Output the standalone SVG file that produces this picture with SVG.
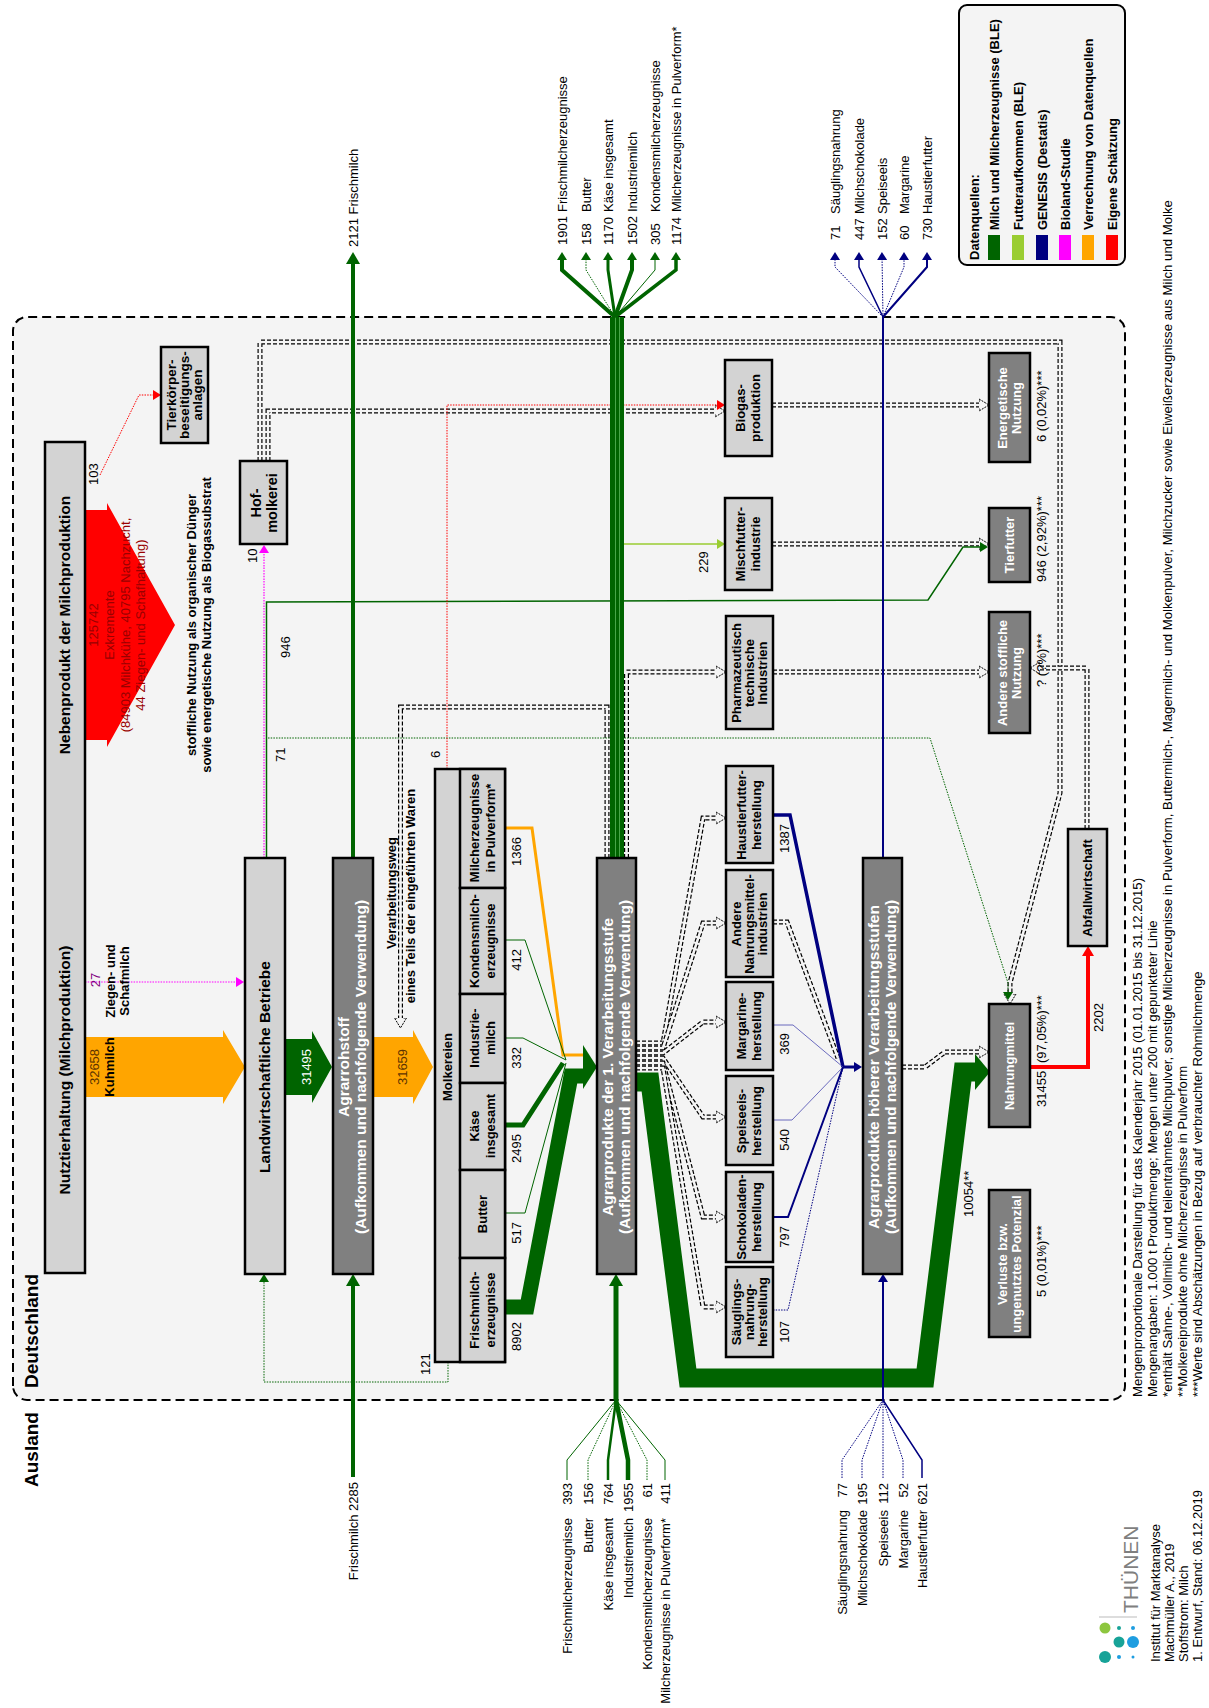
<svg xmlns="http://www.w3.org/2000/svg" width="1209" height="1708" viewBox="0 0 1209 1708">
<style>
text{font-family:"Liberation Sans",Arial,Helvetica,sans-serif;font-size:13px;fill:#000}
.b{font-weight:bold}
.m{text-anchor:middle}
.e{text-anchor:end}
.big{font-size:15.5px;font-weight:bold}
.w{fill:#fff}
.b1{fill:#d3d3d3;stroke:#000;stroke-width:2.5}
.b2{fill:#808080;stroke:#000;stroke-width:2.5}
.dd1{fill:none;stroke:#000;stroke-width:5;stroke-dasharray:4 2}
.dd2{fill:none;stroke:#f4f4f4;stroke-width:2.6;marker-end:url(#ha)}
.dd3{fill:none;stroke:#f4f4f4;stroke-width:2.6}
.g{fill:none;stroke:#006400}
.nv{fill:none;stroke:#000080}
.dt{stroke-dasharray:1.5 1.2}
.leg{font-size:13px;font-weight:bold}
.fn{font-size:13.2px}
.rt{fill:#990000;font-size:13px}
.ot{fill:#5c3300}
</style>
<defs>
<marker id="mG" viewBox="0 0 8 10" refX="4" refY="5" markerWidth="8" markerHeight="10" markerUnits="userSpaceOnUse" orient="auto"><path d="M0,0L8,5L0,10z" fill="#006400"/></marker>
<marker id="mGb" viewBox="0 0 12 14" refX="5" refY="7" markerWidth="12" markerHeight="14" markerUnits="userSpaceOnUse" orient="auto"><path d="M0,0L12,7L0,14z" fill="#006400"/></marker>
<marker id="mN" viewBox="0 0 8 10" refX="4" refY="5" markerWidth="8" markerHeight="10" markerUnits="userSpaceOnUse" orient="auto"><path d="M0,0L8,5L0,10z" fill="#000080"/></marker>
<marker id="mM" viewBox="0 0 8 10" refX="4" refY="5" markerWidth="8" markerHeight="10" markerUnits="userSpaceOnUse" orient="auto"><path d="M0,0L8,5L0,10z" fill="#ff00ff"/></marker>
<marker id="mR" viewBox="0 0 8 10" refX="4" refY="5" markerWidth="8" markerHeight="10" markerUnits="userSpaceOnUse" orient="auto"><path d="M0,0L8,5L0,10z" fill="#ff0000"/></marker>
<marker id="mRb" viewBox="0 0 10 12" refX="4" refY="6" markerWidth="10" markerHeight="12" markerUnits="userSpaceOnUse" orient="auto"><path d="M0,0L10,6L0,12z" fill="#ff0000"/></marker>
<marker id="mL" viewBox="0 0 8 10" refX="4" refY="5" markerWidth="8" markerHeight="10" markerUnits="userSpaceOnUse" orient="auto"><path d="M0,0L8,5L0,10z" fill="#9acd32"/></marker>
<marker id="ha" viewBox="0 -7 11 14" refX="0" refY="0" markerWidth="11" markerHeight="14" markerUnits="userSpaceOnUse" orient="auto"><path d="M0,-3L0,-6L10,0L0,6L0,3" fill="#f4f4f4" stroke="#000" stroke-width="1" stroke-dasharray="2 1"/></marker>
<path id="pA" d="M1247,268L1297,268L1297,715"/>
<path id="pB" d="M1247,260L1366,260L1366,1060L915,1060L725,1010L714,1010"/>
<path id="pC" d="M1303,772L1303,979"/>
<path id="pD" d="M1164,772L1164,979"/>
<path id="pE" d="M1036,773L1036,979"/>
<path id="pF" d="M850,626.5L1036,626.5L1036,716"/>
<path id="pG" d="M850,607L1001,607L1001,400.5L690,400.5"/>
<path id="pH" d="M879,1087L1040,1087L1040,1040"/>
<path id="pI1" d="M665,636L665,663L890,703L890,716"/>
<path id="pI2" d="M660,636L660,663L785,703L785,716"/>
<path id="pI3" d="M655,636L655,663L686,703L686,716"/>
<path id="pI4" d="M650,636L650,663L591,703L591,716"/>
<path id="pI5" d="M645,636L645,663L491,703L491,716"/>
<path id="pI6" d="M640,636L640,663L401,703L401,716"/>
<path id="pJ" d="M786,773L786,787L650,838"/>
<path id="pK" d="M641,902L641,925L656,945L656,979"/>
</defs>
<rect width="1209" height="1708" fill="#fff"/>
<g transform="translate(0,1708) rotate(-90)">
<g id="region">
<rect x="308" y="13" width="1083" height="1112" rx="14" fill="#f4f4f4" stroke="#000" stroke-width="2" stroke-dasharray="9 5"/>
<text x="221" y="38" class="b" style="font-size:19px">Ausland</text>
<text x="320" y="38" class="b" style="font-size:19px">Deutschland</text>
</g>
<g id="connectors">
<polygon points="968,85 968,107 961,107 1083,175 1205,107 1198,107 1198,85" fill="#ff0000"/>
<text x="1083" y="98" class="m rt">125742</text>
<text x="1083" y="114" class="m rt">Exkremente</text>
<text x="1083" y="130" class="m rt">(84903 Milchkühe, 40795 Nachzucht,</text>
<text x="1083" y="145" class="m rt">44 Ziegen- und Schafhaltung)</text>
<text x="1083" y="196" class="m b">stoffliche Nutzung als organischer Dünger</text>
<text x="1083" y="211" class="m b">sowie energetische Nutzung als Biogassubstrat</text>
<polygon points="611,85 671,85 671,223 678,223 641,245 604,223 611,223" fill="#ffa500"/>
<text x="641" y="99" class="m ot">32658</text>
<text x="641" y="114" class="m b">Kuhmilch</text>
<polygon points="613,285 669,285 669,312 677,312 641,332 605,312 613,312" fill="#006400"/>
<text x="641" y="311" class="m w">31495</text>
<polygon points="611,373 671,373 671,413 678,413 641,433 604,413 611,413" fill="#ffa500"/>
<text x="641" y="407" class="m ot">31659</text>
<text x="815" y="396" class="m b">Verarbeitungsweg</text>
<text x="812" y="415" class="m b">eines Teils der eingeführten Waren</text>
<g id="doubledashed">
<use href="#pA" class="dd1"/><use href="#pA" class="dd2"/>
<use href="#pB" class="dd1"/><use href="#pB" class="dd2"/>
<use href="#pC" class="dd1"/><use href="#pC" class="dd2"/>
<use href="#pD" class="dd1"/><use href="#pD" class="dd2"/>
<use href="#pE" class="dd1"/><use href="#pE" class="dd2"/>
<use href="#pF" class="dd1"/><use href="#pF" class="dd2"/>
<use href="#pG" class="dd1"/><use href="#pG" class="dd2"/>
<use href="#pH" class="dd1"/><use href="#pH" class="dd2"/>
<use href="#pI1" class="dd1"/><use href="#pI1" class="dd2"/>
<use href="#pI2" class="dd1"/><use href="#pI2" class="dd2"/>
<use href="#pI3" class="dd1"/><use href="#pI3" class="dd2"/>
<use href="#pI4" class="dd1"/><use href="#pI4" class="dd2"/>
<use href="#pI5" class="dd1"/><use href="#pI5" class="dd2"/>
<use href="#pI6" class="dd1"/><use href="#pI6" class="dd2"/>
<use href="#pJ" class="dd1"/><use href="#pJ" class="dd3"/>
<use href="#pK" class="dd1"/><use href="#pK" class="dd2"/>
</g>
<path d="M726,85L726,240" stroke="#ff00ff" stroke-width="1.2" class="dt" fill="none" marker-end="url(#mM)"/>
<text x="728" y="100" class="m" style="fill:#800080">27</text>
<text x="727" y="115" class="m b">Ziegen- und</text>
<text x="727" y="129" class="m b">Schafmilch</text>
<path d="M850,264L1159,264" stroke="#ff00ff" stroke-width="1.2" class="dt" fill="none" marker-end="url(#mM)"/>
<text x="1145" y="257">10</text>
<path d="M850,266.5L970,266.5L970,930L725,1008L712,1008" class="g dt" stroke-width="1" marker-end="url(#mG)"/>
<text x="946" y="285">71</text>
<path d="M850,266.5L1106,266.5L1108,928L1161,963L1161,984" class="g" stroke-width="1.5" marker-end="url(#mG)"/>
<text x="1050" y="290">946</text>
<path d="M346,448L326,448L326,264L430,264" class="g dt" stroke-width="1" marker-end="url(#mG)"/>
<text x="333" y="430">121</text>
<path d="M1233,100L1313,139L1313,157" stroke="#ff0000" stroke-width="1" class="dt" fill="none" marker-end="url(#mR)"/>
<text x="1223" y="98">103</text>
<path d="M939,447L1303,447L1303,721" stroke="#ff0000" stroke-width="1" class="dt" fill="none" marker-end="url(#mR)"/>
<text x="950" y="440">6</text>
<path d="M1164,624L1164,721" stroke="#9acd32" stroke-width="1.5" fill="none" marker-end="url(#mL)"/>
<text x="1135" y="708">229</text>
<path d="M641,1030L641,1088L756,1088" stroke="#ff0000" stroke-width="4" fill="none" marker-end="url(#mRb)"/>
<text x="676" y="1103">2202</text>
<path d="M231,353L427,353" class="g" stroke-width="4" marker-end="url(#mGb)"/>
<text x="226" y="358" class="e">Frischmilch  2285</text>
<path d="M850,353L1449,353" class="g" stroke-width="4" marker-end="url(#mGb)"/>
<text x="1461" y="358">2121  Frischmilch</text>
<path d="M880,505L880,532L653,563L653,584" stroke="#ffa500" stroke-width="3" fill="none"/>
<path d="M768,505L768,525L648,566" class="g" stroke-width="1"/>
<path d="M670,505L670,523L648,566" class="g" stroke-width="1"/>
<path d="M583,505L583,523L645,563" class="g" stroke-width="5"/>
<path d="M495,505L495,525L645,566" class="g" stroke-width="1"/>
<path d="M401,505L401,527L632,571L632,585" class="g" stroke-width="15"/>
<polygon points="619,583 663,583 641,597" fill="#006400"/>
<text x="871" y="521" class="e">1366</text>
<text x="759" y="521" class="e">412</text>
<text x="661" y="521" class="e">332</text>
<text x="574" y="521" class="e">2495</text>
<text x="486" y="521" class="e">517</text>
<text x="386" y="521" class="e">8902</text>
<path d="M626,636L626,650L330,688L330,925L636,963L636,976" class="g" stroke-width="19"/>
<polygon points="618,975 654,975 636,990" fill="#006400"/>
<text x="491" y="973">10054**</text>
<rect x="850" y="610" width="541" height="14" fill="#006400"/>
<path d="M850,615.5L1391,615.5M850,619.5L1391,619.5" stroke="#5cb85c" stroke-width="0.8"/>
<path d="M308,616L427,616" class="g" stroke-width="5" marker-end="url(#mGb)"/>
<path d="M228,567L248,567L308,616" class="g" stroke-width="1"/>
<path d="M228,588L248,588L308,616" class="g dt" stroke-width="1"/>
<path d="M228,608L248,608L308,616" class="g" stroke-width="2.5"/>
<path d="M228,628L248,628L308,616" class="g" stroke-width="4.5"/>
<path d="M228,647L248,647L308,616" class="g dt" stroke-width="1"/>
<path d="M228,665L248,665L308,616" class="g" stroke-width="1"/>
<text x="225" y="572" class="e">393</text>
<text x="225" y="593" class="e">156</text>
<text x="225" y="613" class="e">764</text>
<text x="225" y="633" class="e">1955</text>
<text x="225" y="652" class="e">61</text>
<text x="225" y="670" class="e">411</text>
<text x="190" y="572" class="e">Frischmilcherzeugnisse</text>
<text x="190" y="593" class="e">Butter</text>
<text x="190" y="613" class="e">Käse insgesamt</text>
<text x="190" y="633" class="e">Industriemilch</text>
<text x="190" y="652" class="e">Kondensmilcherzeugnisse</text>
<text x="190" y="670" class="e">Milcherzeugnisse in Pulverform*</text>
<path d="M1391,615L1438,562L1452,562" class="g" stroke-width="4" marker-end="url(#mG)"/>
<path d="M1391,615L1438,586L1452,586" class="g dt" stroke-width="1" marker-end="url(#mG)"/>
<path d="M1391,615L1438,608L1452,608" class="g" stroke-width="3" marker-end="url(#mG)"/>
<path d="M1391,615L1438,632L1452,632" class="g" stroke-width="4" marker-end="url(#mG)"/>
<path d="M1391,615L1438,655L1452,655" class="g" stroke-width="1" marker-end="url(#mG)"/>
<path d="M1391,615L1438,676L1452,676" class="g" stroke-width="3.5" marker-end="url(#mG)"/>
<text x="1463" y="567">1901</text>
<text x="1463" y="591">158</text>
<text x="1463" y="613">1170</text>
<text x="1463" y="637">1502</text>
<text x="1463" y="660">305</text>
<text x="1463" y="681">1174</text>
<text x="1496" y="567">Frischmilcherzeugnisse</text>
<text x="1496" y="591">Butter</text>
<text x="1496" y="613">Käse insgesamt</text>
<text x="1496" y="637">Industriemilch</text>
<text x="1496" y="660">Kondensmilcherzeugnisse</text>
<text x="1496" y="681">Milcherzeugnisse in Pulverform*</text>
<path d="M893,773L893,790L641,843" class="nv" stroke-width="3.5"/>
<path d="M683,773L683,793L641,843" stroke="#4848b0" stroke-width="0.8" fill="none"/>
<path d="M588,773L588,792L641,843" stroke="#4848b0" stroke-width="0.8" fill="none"/>
<path d="M491,773L491,788L641,843" class="nv" stroke-width="2"/>
<path d="M398,773L398,788L641,843" class="nv dt" stroke-width="1"/>
<path d="M641,843L641,858" class="nv" stroke-width="3" marker-end="url(#mN)"/>
<text x="884" y="789" class="e">1387</text>
<text x="675" y="789" class="e">369</text>
<text x="579" y="789" class="e">540</text>
<text x="482" y="789" class="e">797</text>
<text x="387" y="789" class="e">107</text>
<path d="M308,883L430,883" class="nv" stroke-width="2" marker-end="url(#mN)"/>
<path d="M230,842L248,842L308,883" class="nv dt" stroke-width="1"/>
<path d="M230,862L248,862L308,883" class="nv dt" stroke-width="1"/>
<path d="M230,883L308,883" class="nv dt" stroke-width="1"/>
<path d="M230,903L248,903L308,883" class="nv dt" stroke-width="1"/>
<path d="M230,922L248,922L308,883" class="nv" stroke-width="1.5"/>
<text x="225" y="847" class="e">77</text>
<text x="225" y="867" class="e">195</text>
<text x="225" y="888" class="e">112</text>
<text x="225" y="908" class="e">52</text>
<text x="225" y="927" class="e">621</text>
<text x="198" y="847" class="e">Säuglingsnahrung</text>
<text x="198" y="867" class="e">Milchschokolade</text>
<text x="198" y="888" class="e">Speiseeis</text>
<text x="198" y="908" class="e">Margarine</text>
<text x="198" y="927" class="e">Haustierfutter</text>
<path d="M850,883L1391,883" class="nv" stroke-width="2"/>
<path d="M1391,883L1441,835L1452,835" class="nv dt" stroke-width="1" marker-end="url(#mN)"/>
<path d="M1391,883L1441,859L1452,859" class="nv" stroke-width="1.5" marker-end="url(#mN)"/>
<path d="M1391,883L1452,882" class="nv dt" stroke-width="1" marker-end="url(#mN)"/>
<path d="M1391,883L1441,904L1452,904" class="nv dt" stroke-width="1" marker-end="url(#mN)"/>
<path d="M1391,883L1441,927L1452,927" class="nv" stroke-width="2" marker-end="url(#mN)"/>
<text x="1468" y="840">71</text>
<text x="1468" y="864">447</text>
<text x="1468" y="887">152</text>
<text x="1468" y="909">60</text>
<text x="1468" y="932">730</text>
<text x="1494" y="840">Säuglingsnahrung</text>
<text x="1494" y="864">Milchschokolade</text>
<text x="1494" y="887">Speiseeis</text>
<text x="1494" y="909">Margarine</text>
<text x="1494" y="932">Haustierfutter</text>
</g>
<g id="n-tierhaltung"><rect x="435" y="45" width="831" height="40" class="b1"/>
<text x="638" y="70" class="m big">Nutztierhaltung (Milchproduktion)</text>
<text x="1083" y="70" class="m big">Nebenprodukt der Milchproduktion</text></g>
<g id="n-landw"><rect x="434" y="245" width="416" height="40" class="b1"/>
<text x="641" y="270" class="m big">Landwirtschaftliche Betriebe</text></g>
<g id="n-agrarrohstoff"><rect x="434" y="333" width="416" height="40" class="b2"/>
<text x="641" y="349" class="m big w">Agrarrohstoff</text>
<text x="641" y="366" class="m big w">(Aufkommen und nachfolgende Verwendung)</text></g>
<g id="n-molkereien"><rect x="346" y="435" width="593" height="70" class="b1"/>
<text x="641" y="452" class="m b">Molkereien</text>
<rect x="820" y="460" width="119" height="45" class="b1"/>
<text x="880" y="479" class="m b">Milcherzeugnisse</text><text x="880" y="495" class="m b">in Pulverform*</text>
<rect x="714" y="460" width="106" height="45" class="b1"/>
<text x="767" y="479" class="m b">Kondensmilch-</text><text x="767" y="495" class="m b">erzeugnisse</text>
<rect x="625" y="460" width="89" height="45" class="b1"/>
<text x="670" y="479" class="m b">Industrie-</text><text x="670" y="495" class="m b">milch</text>
<rect x="538" y="460" width="87" height="45" class="b1"/>
<text x="582" y="479" class="m b">Käse</text><text x="582" y="495" class="m b">insgesamt</text>
<rect x="450" y="460" width="88" height="45" class="b1"/>
<text x="494" y="487" class="m b">Butter</text>
<rect x="346" y="460" width="104" height="45" class="b1"/>
<text x="398" y="479" class="m b">Frischmilch-</text><text x="398" y="495" class="m b">erzeugnisse</text></g>
<g id="n-stufe1"><rect x="434" y="597" width="416" height="39" class="b2"/>
<text x="641" y="613" class="m big w">Agrarprodukte der 1. Verarbeitungsstufe</text>
<text x="641" y="630" class="m big w">(Aufkommen und nachfolgende Verwendung)</text></g>
<g id="n-haustier"><rect x="845" y="726" width="97" height="47" class="b1"/>
<text x="893" y="746" class="m b">Haustierfutter-</text><text x="893" y="761" class="m b">herstellung</text></g>
<g id="n-andere-nm"><rect x="731" y="726" width="107" height="47" class="b1"/>
<text x="784" y="741" class="m b">Andere</text><text x="784" y="754" class="m b">Nahrungsmittel-</text><text x="784" y="767" class="m b">industrien</text></g>
<g id="n-margarine"><rect x="638" y="726" width="88" height="47" class="b1"/>
<text x="682" y="746" class="m b">Margarine-</text><text x="682" y="761" class="m b">herstellung</text></g>
<g id="n-speiseeis"><rect x="543" y="726" width="89" height="47" class="b1"/>
<text x="587" y="746" class="m b">Speiseeis-</text><text x="587" y="761" class="m b">herstellung</text></g>
<g id="n-schoko"><rect x="446" y="726" width="90" height="47" class="b1"/>
<text x="491" y="746" class="m b">Schokoladen-</text><text x="491" y="761" class="m b">herstellung</text></g>
<g id="n-saeugling"><rect x="351" y="726" width="90" height="47" class="b1"/>
<text x="396" y="741" class="m b">Säuglings-</text><text x="396" y="754" class="m b">nahrung-</text><text x="396" y="767" class="m b">herstellung</text></g>
<g id="n-hoehere"><rect x="434" y="863" width="416" height="39" class="b2"/>
<text x="641" y="879" class="m big w">Agrarprodukte höherer Verarbeitungsstufen</text>
<text x="641" y="896" class="m big w">(Aufkommen und nachfolgende Verwendung)</text></g>
<g id="n-nahrung"><rect x="581" y="989" width="123" height="41" class="b2"/>
<text x="642" y="1014" class="m b w">Nahrungmittel</text>
<text x="601" y="1046">31455</text><text x="645" y="1046">(97,05%)***</text></g>
<g id="n-verluste"><rect x="371" y="989" width="147" height="41" class="b2"/>
<text x="444" y="1007" class="m b w">Verluste bzw.</text><text x="444" y="1021" class="m b w">ungenutztes Potenzial</text>
<text x="411" y="1046">5 (0,01%)***</text></g>
<g id="n-andere-stoff"><rect x="975" y="989" width="121" height="41" class="b2"/>
<text x="1035" y="1007" class="m b w">Andere stoffliche</text><text x="1035" y="1021" class="m b w">Nutzung</text>
<text x="1021" y="1046">? (?%)***</text></g>
<g id="n-tierfutter"><rect x="1126" y="989" width="74" height="41" class="b2"/>
<text x="1163" y="1014" class="m b w">Tierfutter</text>
<text x="1126" y="1046">946 (2,92%)***</text></g>
<g id="n-energetisch"><rect x="1246" y="989" width="109" height="41" class="b2"/>
<text x="1300" y="1007" class="m b w">Energetische</text><text x="1300" y="1021" class="m b w">Nutzung</text>
<text x="1266" y="1046">6 (0,02%)***</text></g>
<g id="n-abfall"><rect x="762" y="1068" width="117" height="39" class="b1"/>
<text x="820" y="1092" class="m b">Abfallwirtschaft</text></g>
<g id="n-biogas"><rect x="1252" y="725" width="96" height="47" class="b1"/>
<text x="1300" y="745" class="m b">Biogas-</text><text x="1300" y="760" class="m b">produktion</text></g>
<g id="n-mischfutter"><rect x="1118" y="725" width="92" height="47" class="b1"/>
<text x="1164" y="745" class="m b">Mischfutter-</text><text x="1164" y="760" class="m b">industrie</text></g>
<g id="n-pharma"><rect x="979" y="726" width="113" height="47" class="b1"/>
<text x="1035" y="741" class="m b">Pharmazeutisch</text><text x="1035" y="754" class="m b">technische</text><text x="1035" y="767" class="m b">Industrien</text></g>
<g id="n-hofmolkerei"><rect x="1164" y="240" width="83" height="47" class="b1"/>
<text x="1205" y="261" class="m b" style="font-size:14.5px">Hof-</text><text x="1205" y="277" class="m b" style="font-size:14.5px">molkerei</text></g>
<g id="n-tierkoerper"><rect x="1265" y="161" width="96" height="47" class="b1"/>
<text x="1313" y="176" class="m b" style="font-size:13.5px">Tierkörper-</text><text x="1313" y="189" class="m b" style="font-size:13.5px">beseitigungs-</text><text x="1313" y="202" class="m b" style="font-size:13.5px">anlagen</text></g>
<g id="legend"><rect x="1443" y="959" width="260" height="166" rx="8" fill="#f4f4f4" stroke="#000" stroke-width="2"/>
<text x="1448" y="979" class="leg">Datenquellen:</text>
<rect x="1448" y="988" width="25" height="12" fill="#006400"/><text x="1478" y="999" class="leg">Milch und Milcherzeugnisse (BLE)</text>
<rect x="1448" y="1012" width="25" height="12" fill="#9acd32"/><text x="1478" y="1023" class="leg">Futteraufkommen (BLE)</text>
<rect x="1448" y="1036" width="25" height="12" fill="#000080"/><text x="1478" y="1047" class="leg">GENESIS (Destatis)</text>
<rect x="1448" y="1059" width="25" height="12" fill="#ff00ff"/><text x="1478" y="1070" class="leg">Bioland-Studie</text>
<rect x="1448" y="1082" width="25" height="12" fill="#ffa500"/><text x="1478" y="1093" class="leg">Verrechnung von Datenquellen</text>
<rect x="1448" y="1106" width="25" height="12" fill="#ff0000"/><text x="1478" y="1117" class="leg">Eigene Schätzung</text></g>
<g id="notes">
<text x="311" y="1142" class="fn">Mengenproportionale Darstellung für das Kalenderjahr 2015 (01.01.2015 bis 31.12.2015)</text>
<text x="311" y="1157" class="fn">Mengenangaben: 1.000 t Produktmenge; Mengen unter 200 mit gepunkteter Linie</text>
<text x="311" y="1172" class="fn">*enthält Sahne-, Vollmilch- und teilentrahmtes Milchpulver, sonstige Milcherzeugnisse in Pulverform, Buttermilch-, Magermilch- und Molkenpulver, Milchzucker sowie Eiweißerzeugnisse aus Milch und Molke</text>
<text x="311" y="1187" class="fn">**Molkereiprodukte ohne Milcherzeugnisse in Pulverform</text>
<text x="311" y="1202" class="fn">***Werte sind Abschätzungen in Bezug auf verbrauchter Rohmilchmenge</text>
</g>
<g id="thuenen">
<circle cx="80" cy="1105" r="5.5" fill="#8dc63f"/>
<circle cx="51" cy="1105" r="6" fill="#17a398"/>
<circle cx="66" cy="1119" r="5.5" fill="#17a398"/>
<circle cx="80" cy="1119" r="2" fill="#17a398"/>
<circle cx="51" cy="1119" r="2" fill="#1e9de0"/>
<circle cx="66" cy="1133" r="6" fill="#1e9de0"/>
<circle cx="80" cy="1133" r="2" fill="#1e9de0"/>
<circle cx="51" cy="1133" r="1.5" fill="#1e9de0"/>
<path d="M91,1099L91,1137" stroke="#bbb" stroke-width="1"/>
<text x="95" y="1138" style="font-size:21px;fill:#7f7f7f">THÜNEN</text>
<text x="46" y="1160">Institut für Marktanalyse</text>
<text x="46" y="1174">Machmüller A., 2019</text>
<text x="46" y="1188">Stoffstrom: Milch</text>
<text x="46" y="1202">1. Entwurf, Stand: 06.12.2019</text>
</g>
</g>
</svg>
